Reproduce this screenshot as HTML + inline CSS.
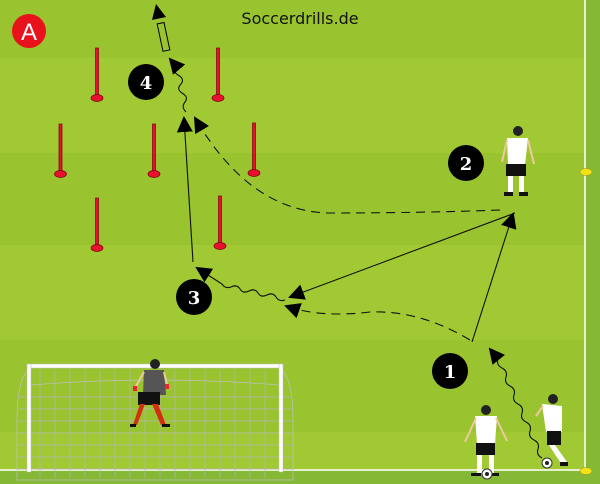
<!DOCTYPE html>
<html><head><meta charset="utf-8"><style>
html,body{margin:0;padding:0;background:#9cc532;}
svg{display:block}
</style></head><body>
<svg width="600" height="484" viewBox="0 0 600 484" xmlns="http://www.w3.org/2000/svg">
<defs>
<marker id="arb" markerWidth="16" markerHeight="16" refX="14" refY="8" orient="auto" markerUnits="userSpaceOnUse"><path d="M0,0 L16,8 L0,16 Z" fill="#000"/></marker>
</defs>
<rect width="600" height="484" fill="#a0c933"/>
<rect y="0" width="600" height="58" fill="#99c430"/>
<rect y="153" width="600" height="92" fill="#99c430"/>
<rect y="340" width="600" height="92" fill="#99c430"/>
<rect y="471" width="600" height="13" fill="#84b835"/>
<rect x="586" width="14" height="484" fill="#84b835"/>
<line x1="0" y1="470" x2="586" y2="470" stroke="#e6f0d0" stroke-width="2"/>
<line x1="585" y1="0" x2="585" y2="471" stroke="#e6f0d0" stroke-width="2"/>
<ellipse cx="586" cy="172" rx="6" ry="3.5" fill="#f2e21a" stroke="#a09000" stroke-width="0.5"/>
<ellipse cx="586" cy="471" rx="6" ry="3.5" fill="#f2e21a" stroke="#a09000" stroke-width="0.5"/>
<circle cx="29" cy="31" r="17" fill="#e8121c"/>
<text x="29" y="40" font-family="Liberation Sans, sans-serif" font-size="24" fill="#fff" text-anchor="middle">A</text>
<text x="300" y="24" font-family="DejaVu Sans, sans-serif" font-size="16" fill="#111" text-anchor="middle">Soccerdrills.de</text>
<g fill="#e8102c" stroke="#7a0010" stroke-width="0.7">
<rect x="95.5" y="48" width="3" height="50"/><ellipse cx="97" cy="98" rx="6" ry="3.5"/>
<rect x="216.5" y="48" width="3" height="50"/><ellipse cx="218" cy="98" rx="6" ry="3.5"/>
<rect x="59" y="124" width="3" height="50"/><ellipse cx="60.5" cy="174" rx="6" ry="3.5"/>
<rect x="152.5" y="124" width="3" height="50"/><ellipse cx="154" cy="174" rx="6" ry="3.5"/>
<rect x="252.5" y="123" width="3" height="50"/><ellipse cx="254" cy="173" rx="6" ry="3.5"/>
<rect x="95.5" y="198" width="3" height="50"/><ellipse cx="97" cy="248" rx="6" ry="3.5"/>
<rect x="218.5" y="196" width="3" height="50"/><ellipse cx="220" cy="246" rx="6" ry="3.5"/>
</g>
<rect x="160" y="23" width="7" height="28" fill="none" stroke="#000" stroke-width="1" transform="rotate(-12 163 37)"/>
<path d="M152,20 L156,4 L166,17 Z" fill="#000"/>
<g fill="none" stroke="#111" stroke-width="1.1">
<path d="M186,112 q-5,-5 -1,-10 q4,-5 -3,-9 q-6,-4 -1,-9 q4,-5 -3,-9 q-6,-4 -2,-9 l-6,-7" marker-end="url(#arb)"/>
<line x1="193" y1="262" x2="184" y2="118" marker-end="url(#arb)"/>
<path d="M500,210 Q420,213 330,213 Q250,212 195,118" stroke-dasharray="9,6" marker-end="url(#arb)"/>
<line x1="515" y1="213" x2="290" y2="297" marker-end="url(#arb)"/>
<line x1="472" y1="342" x2="513" y2="214" marker-end="url(#arb)"/>
<path d="M470,340 Q420,310 370,312 Q320,318 286,306" stroke-dasharray="9,6" marker-end="url(#arb)"/>
<path d="M285,300 q-6,2 -9,-3 q-3,-5 -9,-2 q-6,3 -9,-2 q-3,-5 -9,-2 q-6,3 -9,-2 q-3,-5 -9,-2 q-6,2 -9,-3 L197,268" marker-end="url(#arb)"/>
<path d="M542,458 q-6,-3 -4,-9 q2,-6 -4,-9 q-6,-3 -4,-9 q2,-6 -4,-9 q-6,-3 -4,-9 q2,-6 -4,-9 q-6,-3 -4,-9 q2,-6 -4,-9 q-6,-3 -4,-9 q2,-6 -4,-9 q-6,-3 -4,-9 l-8,-10" marker-end="url(#arb)"/>
</g>
<g font-family="DejaVu Serif, serif" font-weight="bold" font-size="18" fill="#fff" text-anchor="middle">
<circle cx="146" cy="82" r="18" fill="#000"/><text x="146" y="89">4</text>
<circle cx="466" cy="163" r="18" fill="#000"/><text x="466" y="170">2</text>
<circle cx="194" cy="297" r="18" fill="#000"/><text x="194" y="304">3</text>
<circle cx="450" cy="371" r="18" fill="#000"/><text x="450" y="378">1</text>
</g>
<g fill="none" stroke="#c0c0c0" stroke-width="0.7">
<path d="M30,368 Q17,378 17,420 L17,480 L293,480 L293,420 Q293,378 280,368"/>
<path d="M31,385 Q155,375 279,385"/>
<g stroke="#b4b4b4">
<line x1="40" y1="370" x2="40" y2="478"/><line x1="55" y1="370" x2="55" y2="478"/><line x1="70" y1="370" x2="70" y2="478"/><line x1="85" y1="370" x2="85" y2="478"/><line x1="100" y1="370" x2="100" y2="478"/><line x1="115" y1="370" x2="115" y2="478"/><line x1="130" y1="370" x2="130" y2="478"/><line x1="145" y1="370" x2="145" y2="478"/><line x1="160" y1="370" x2="160" y2="478"/><line x1="175" y1="370" x2="175" y2="478"/><line x1="190" y1="370" x2="190" y2="478"/><line x1="205" y1="370" x2="205" y2="478"/><line x1="220" y1="370" x2="220" y2="478"/><line x1="235" y1="370" x2="235" y2="478"/><line x1="250" y1="370" x2="250" y2="478"/><line x1="265" y1="370" x2="265" y2="478"/>
<line x1="18" y1="397" x2="292" y2="397"/><line x1="17" y1="409" x2="293" y2="409"/><line x1="17" y1="421" x2="293" y2="421"/><line x1="17" y1="433" x2="293" y2="433"/><line x1="17" y1="445" x2="293" y2="445"/><line x1="17" y1="457" x2="293" y2="457"/><line x1="17" y1="469" x2="293" y2="469"/>
</g>
</g>
<g fill="#fff" stroke="#bbb" stroke-width="0.5">
<rect x="27" y="364" width="256" height="4"/>
<rect x="27" y="364" width="4" height="108"/>
<rect x="279" y="364" width="4" height="108"/>
</g>
<g>
<circle cx="155" cy="364" r="5" fill="#222"/>
<path d="M144,370 L164,370 L166,395 L143,395 Z" fill="#555"/>
<rect x="138" y="392" width="22" height="13" fill="#111"/>
<path d="M140,404 L145,404 L137,425 L133,425 Z" fill="#d03010"/>
<path d="M152,404 L158,404 L166,425 L161,425 Z" fill="#d03010"/>
<rect x="130" y="424" width="6" height="3" fill="#111"/><rect x="162" y="424" width="8" height="3" fill="#111"/>
<line x1="144" y1="372" x2="135" y2="388" stroke="#f0c8a0" stroke-width="2"/><rect x="133" y="386" width="4" height="5" fill="#e23"/>
<line x1="164" y1="372" x2="167" y2="385" stroke="#f0c8a0" stroke-width="2"/><rect x="165" y="384" width="4" height="5" fill="#e23"/>
</g>
<g>
<circle cx="518" cy="131" r="5" fill="#222"/>
<path d="M507,138 L528,138 L525,165 L508,165 Z" fill="#fff"/>
<rect x="506" y="164" width="20" height="12" fill="#111"/>
<rect x="508" y="176" width="5" height="16" fill="#fff"/><rect x="519" y="176" width="5" height="16" fill="#fff"/>
<rect x="504" y="192" width="9" height="4" fill="#111"/><rect x="519" y="192" width="9" height="4" fill="#111"/>
<line x1="507" y1="140" x2="502" y2="162" stroke="#f0c8a0" stroke-width="2"/><line x1="528" y1="140" x2="534" y2="164" stroke="#f0c8a0" stroke-width="2"/>
</g>
<g>
<circle cx="486" cy="410" r="5" fill="#222"/>
<path d="M475,416 L497,416 L495,444 L477,444 Z" fill="#fff"/>
<rect x="476" y="443" width="19" height="12" fill="#111"/>
<rect x="477" y="455" width="5" height="18" fill="#fff"/><rect x="489" y="455" width="5" height="18" fill="#fff"/>
<rect x="471" y="473" width="10" height="3" fill="#111"/><rect x="489" y="473" width="10" height="3" fill="#111"/>
<line x1="476" y1="418" x2="465" y2="442" stroke="#f0c8a0" stroke-width="2"/><line x1="496" y1="418" x2="507" y2="441" stroke="#f0c8a0" stroke-width="2"/>
<circle cx="487" cy="474" r="5" fill="#fff" stroke="#333"/><circle cx="487" cy="474" r="2" fill="#222"/>
</g>
<g>
<circle cx="553" cy="399" r="5" fill="#222"/>
<path d="M542,404 L562,406 L562,432 L546,432 Z" fill="#fff"/>
<rect x="547" y="431" width="14" height="14" fill="#111"/>
<path d="M549,445 L555,445 L567,462 L562,465 Z" fill="#fff"/>
<rect x="560" y="462" width="8" height="4" fill="#111"/>
<line x1="543" y1="406" x2="536" y2="416" stroke="#f0c8a0" stroke-width="2"/>
<circle cx="547" cy="463" r="5" fill="#fff" stroke="#333"/><circle cx="547" cy="463" r="2" fill="#222"/>
</g>
</svg>
</body></html>
